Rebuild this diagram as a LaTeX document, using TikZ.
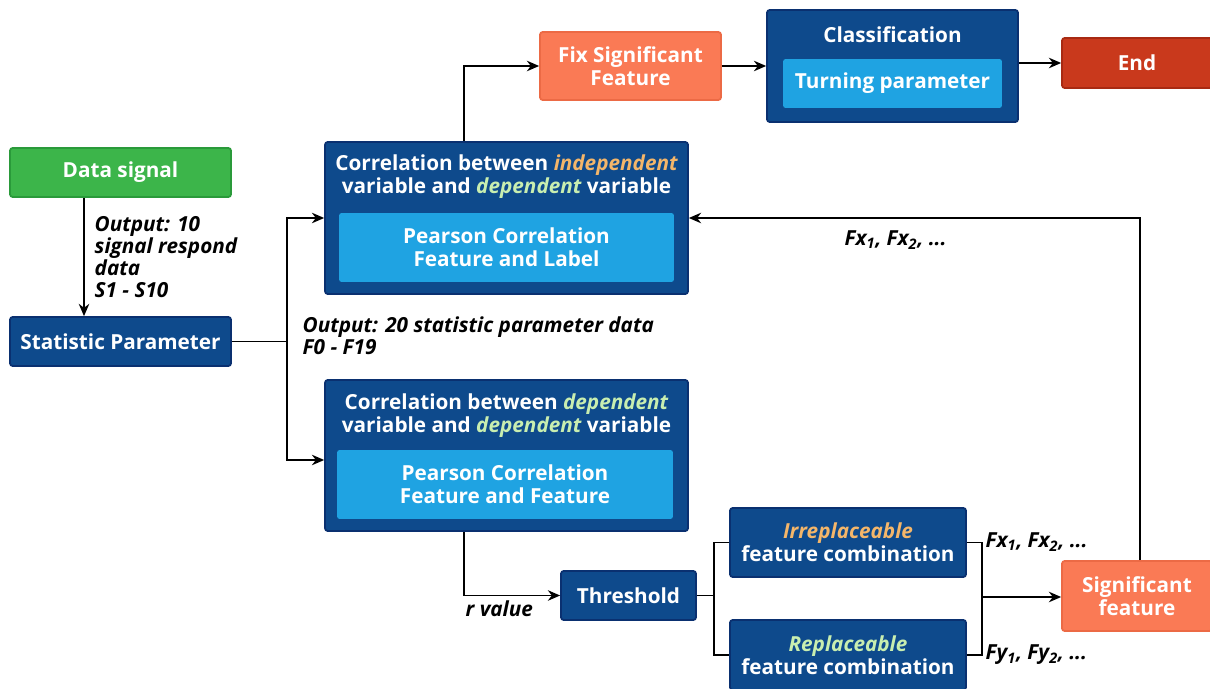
\documentclass[tikz,border=0pt]{standalone}
\usepackage{fontspec}
\setmainfont{Open Sans}
\usetikzlibrary{positioning, arrows.meta}

\definecolor{darkblue}{HTML}{0E4A8C}
\definecolor{darkblueline}{HTML}{0A3070}
\definecolor{lightblue}{HTML}{1FA3E2}
\definecolor{sgreen}{HTML}{3CB54A}
\definecolor{sgreenline}{HTML}{2A9A3A}
\definecolor{sorange}{HTML}{FA7A55}
\definecolor{sorangeline}{HTML}{EC6A45}
\definecolor{sred}{HTML}{C9391C}
\definecolor{sredline}{HTML}{A82A12}
\definecolor{wordorange}{HTML}{F4B66A}
\definecolor{wordgreen}{HTML}{C8EEB0}

\begin{document}
\begin{tikzpicture}[x=0.02cm, y=-0.02cm, >={Stealth[length=7pt,width=6pt]}, line width=0.8pt,
    box/.style={draw=darkblueline, fill=darkblue, line width=1pt, rounded corners=1.5pt, text=white, font=\fontsize{11.8}{13}\selectfont\bfseries, align=center, inner sep=0pt},
    inbox/.style={fill=lightblue, rounded corners=1.5pt, text=white, font=\fontsize{11.8}{13}\selectfont\bfseries, align=center, inner sep=0pt},
    lab/.style={font=\fontsize{11.8}{12.4}\selectfont\bfseries\itshape, align=left, inner sep=0pt}]
      \useasboundingbox (0,0) rectangle (1210,689);

      % Input side
      \node[box, draw=sgreenline, fill=sgreen, minimum width=4.42cm, minimum height=0.98cm] (data) at (120.5,172.5) {Data signal};
      \node[box, minimum width=4.42cm, minimum height=0.98cm] (stat) at (120.5,341.5) {Statistic Parameter};
      \node[lab, anchor=north west] (out1) at (94,216) {Output: 10\\signal respond\\data\\S1 - S10};

      % Correlation blocks
      \node[box, minimum width=7.26cm, minimum height=3.04cm] (corr1) at (506.5,218) {};
      \node[box, draw=none, fill=none] (title1) at (506.5,176.5) {Correlation between \textcolor{wordorange}{\itshape independent}\\variable and \textcolor{wordgreen}{\itshape dependent} variable};
      \node[inbox, minimum width=6.7cm, minimum height=1.38cm] (pear1) at (506.5,247.5) {Pearson Correlation\\Feature and Label};

      \node[box, minimum width=7.26cm, minimum height=3.02cm] (corr2) at (506.5,455.5) {};
      \node[box, draw=none, fill=none] (title2) at (506.5,415.5) {Correlation between \textcolor{wordgreen}{\itshape dependent}\\variable and \textcolor{wordgreen}{\itshape dependent} variable};
      \node[inbox, minimum width=6.72cm, minimum height=1.38cm] (pear2) at (505,484.5) {Pearson Correlation\\Feature and Feature};
      \node[lab, anchor=north west] (out2) at (302,316) {Output: 20 statistic parameter data\\F0 - F19};

      % Top row
      \node[box, draw=sorangeline, fill=sorange, minimum width=3.62cm, minimum height=1.36cm] (fix) at (630.5,66) {Fix Significant\\Feature};
      \node[box, minimum width=5.02cm, minimum height=2.24cm] (class) at (892.5,66) {};
      \node[box, draw=none, fill=none] (classtitle) at (892.5,35) {Classification};
      \node[inbox, minimum width=4.38cm, minimum height=0.98cm] (turn) at (892.5,83.5) {Turning parameter};
      \node[box, draw=sredline, fill=sred, minimum width=3cm, minimum height=1cm] (end) at (1137,63) {End};

      % Threshold and combinations
      \node[box, minimum width=2.7cm, minimum height=0.98cm] (thr) at (628.5,595.5) {Threshold};
      \node[lab, anchor=north west] (rval) at (465,600) {r value};
      \node[box, minimum width=4.72cm, minimum height=1.38cm] (irr) at (848,542.5) {\textcolor{wordorange}{\itshape Irreplaceable}\\feature combination};
      \node[box, minimum width=4.72cm, minimum height=1.4cm] (rep) at (848,655) {\textcolor{wordgreen}{\itshape Replaceable}\\feature combination};
      \node[box, draw=sorangeline, fill=sorange, minimum width=3cm, minimum height=1.4cm] (sig) at (1137,596) {Significant\\feature};
      \node[lab, anchor=west] (fx) at (985,542) {Fx\textsubscript{1}, Fx\textsubscript{2}, ...};
      \node[lab, anchor=west] (fy) at (985,655) {Fy\textsubscript{1}, Fy\textsubscript{2}, ...};
      \node[lab, anchor=west] (fxtop) at (844,240) {Fx\textsubscript{1}, Fx\textsubscript{2}, ...};

      % Branch points
      \coordinate (split) at (287,341.5);
      \coordinate (split2) at (714,595.5);
      \coordinate (join) at (982,597);

      % Connections
      \draw[->] ([xshift=-0.73cm]data.south) -- ([xshift=-0.73cm]stat.north);
      \draw (stat) -- (split);
      \draw[->] (split) |- (corr1.west);
      \draw[->] (split) |- ([yshift=-0.09cm]corr2.west);
      \draw[->] ([xshift=-0.85cm]corr1.north) |- (fix.west);
      \draw[->] (fix) -- (fix -| class.west);
      \draw[->] (class.east |- end) -- (end);
      \draw[->] ([xshift=-0.85cm]corr2.south) |- (thr.west);
      \draw (thr) -- (split2);
      \draw (irr.west) -| (split2) |- (rep.west);
      \draw (irr.east) -| (join) |- (rep.east);
      \draw[->] (join) -- (sig.west |- join);
      \draw[->] ([xshift=0.06cm]sig.north) |- (corr1.east);

    \end{tikzpicture}
\end{document}
